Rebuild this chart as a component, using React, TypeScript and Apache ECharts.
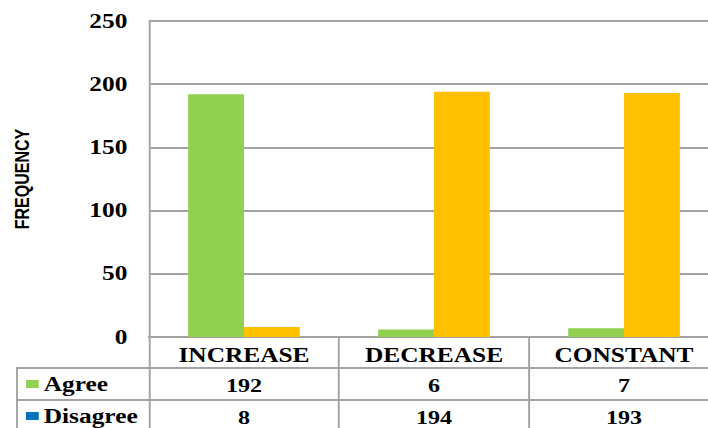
import React, { useEffect, useRef } from "react";
import * as echarts from "echarts";

// Survey responses per trend
const categories = ["INCREASE", "DECREASE", "CONSTANT"];
const agreeValues = [192, 6, 7];
const disagreeValues = [8, 194, 193];

// Frequency axis
const yMin = 0;
const yMax = 250;
const yStep = 50;

const GRID = "#a3a3a3";
const SERIF = "Liberation Serif";
const STRETCH = 708 / 558;

export default function App() {
  const ref = useRef<HTMLDivElement>(null);

  useEffect(() => {
    if (!ref.current) return;
    const chart = echarts.init(ref.current, null, { renderer: "svg" });

    const labelFont = {
      fontFamily: SERIF,
      fontWeight: "bold" as const,
      fontSize: 20,
      color: "#000",
    };

    const tableAxis = (values: number[], offset: number) => ({
      type: "category" as const,
      position: "bottom" as const,
      offset,
      data: values.map(String),
      axisLine: { show: true, lineStyle: { color: GRID, width: 2 } },
      axisTick: { show: false },
      splitLine: { show: false },
      axisLabel: { ...labelFont, fontSize: 19, margin: 8 },
    });

    chart.setOption({
      animation: false,
      backgroundColor: "#fff",
      grid: {
        left: 117.4,
        right: -8.7,
        top: 21,
        bottom: 91,
        outerBoundsMode: "none",
        containLabel: false,
      },
      legend: {
        orient: "vertical",
        left: 20.5,
        top: 374,
        padding: 0,
        itemGap: 12,
        itemWidth: 10,
        itemHeight: 8,
        icon: "rect",
        textStyle: { ...labelFont, padding: [0, 0, 0, -1] },
        data: [
          { name: "Agree", itemStyle: { color: "#92D050" } },
          { name: "Disagree", itemStyle: { color: "#0070C0" } },
        ],
      },
      xAxis: [
        {
          type: "category",
          data: categories,
          axisLine: { show: true, lineStyle: { color: GRID, width: 2 } },
          axisTick: {
            show: true,
            alignWithLabel: false,
            inside: false,
            length: 95,
            lineStyle: { color: GRID, width: 1.5 },
          },
          splitLine: { show: false },
          axisLabel: { ...labelFont, margin: 8 },
        },
        tableAxis(agreeValues, 31),
        tableAxis(disagreeValues, 63),
      ],
      yAxis: {
        type: "value",
        min: yMin,
        max: yMax,
        interval: yStep,
        name: "FREQUENCY",
        nameLocation: "middle",
        nameRotate: 90,
        nameGap: 92,
        nameTextStyle: {
          fontFamily: "Liberation Sans",
          fontWeight: "bold",
          fontSize: 16,
          color: "#000",
        },
        axisLine: { show: true, lineStyle: { color: GRID, width: 1.5 } },
        axisTick: { show: false },
        splitLine: { show: true, lineStyle: { color: GRID, width: 2 } },
        axisLabel: { ...labelFont, margin: 17 },
      },
      series: [
        {
          name: "Agree",
          type: "bar",
          data: agreeValues,
          barWidth: 44,
          barGap: "0%",
          itemStyle: { color: "#92D050" },
        },
        {
          name: "Disagree",
          type: "bar",
          data: disagreeValues,
          barWidth: 44,
          barGap: "0%",
          itemStyle: { color: "#FFC000" },
        },
      ],
      graphic: [
        {
          type: "line",
          shape: { x1: 13.4, y1: 368, x2: 117.4, y2: 368 },
          style: { stroke: GRID, lineWidth: 2 },
        },
        {
          type: "line",
          shape: { x1: 13.4, y1: 400, x2: 117.4, y2: 400 },
          style: { stroke: GRID, lineWidth: 2 },
        },
        {
          type: "line",
          shape: { x1: 13.4, y1: 367, x2: 13.4, y2: 432 },
          style: { stroke: GRID, lineWidth: 1.5 },
        },
      ],
    });

    return () => chart.dispose();
  }, []);

  return (
    <div
      style={{
        position: "fixed",
        left: 0,
        top: 0,
        width: 708,
        height: 428,
        overflow: "hidden",
        background: "#fff",
      }}
    >
      <div
        ref={ref}
        style={{
          width: 558,
          height: 428,
          transform: `scaleX(${STRETCH})`,
          transformOrigin: "0 0",
        }}
      />
    </div>
  );
}
